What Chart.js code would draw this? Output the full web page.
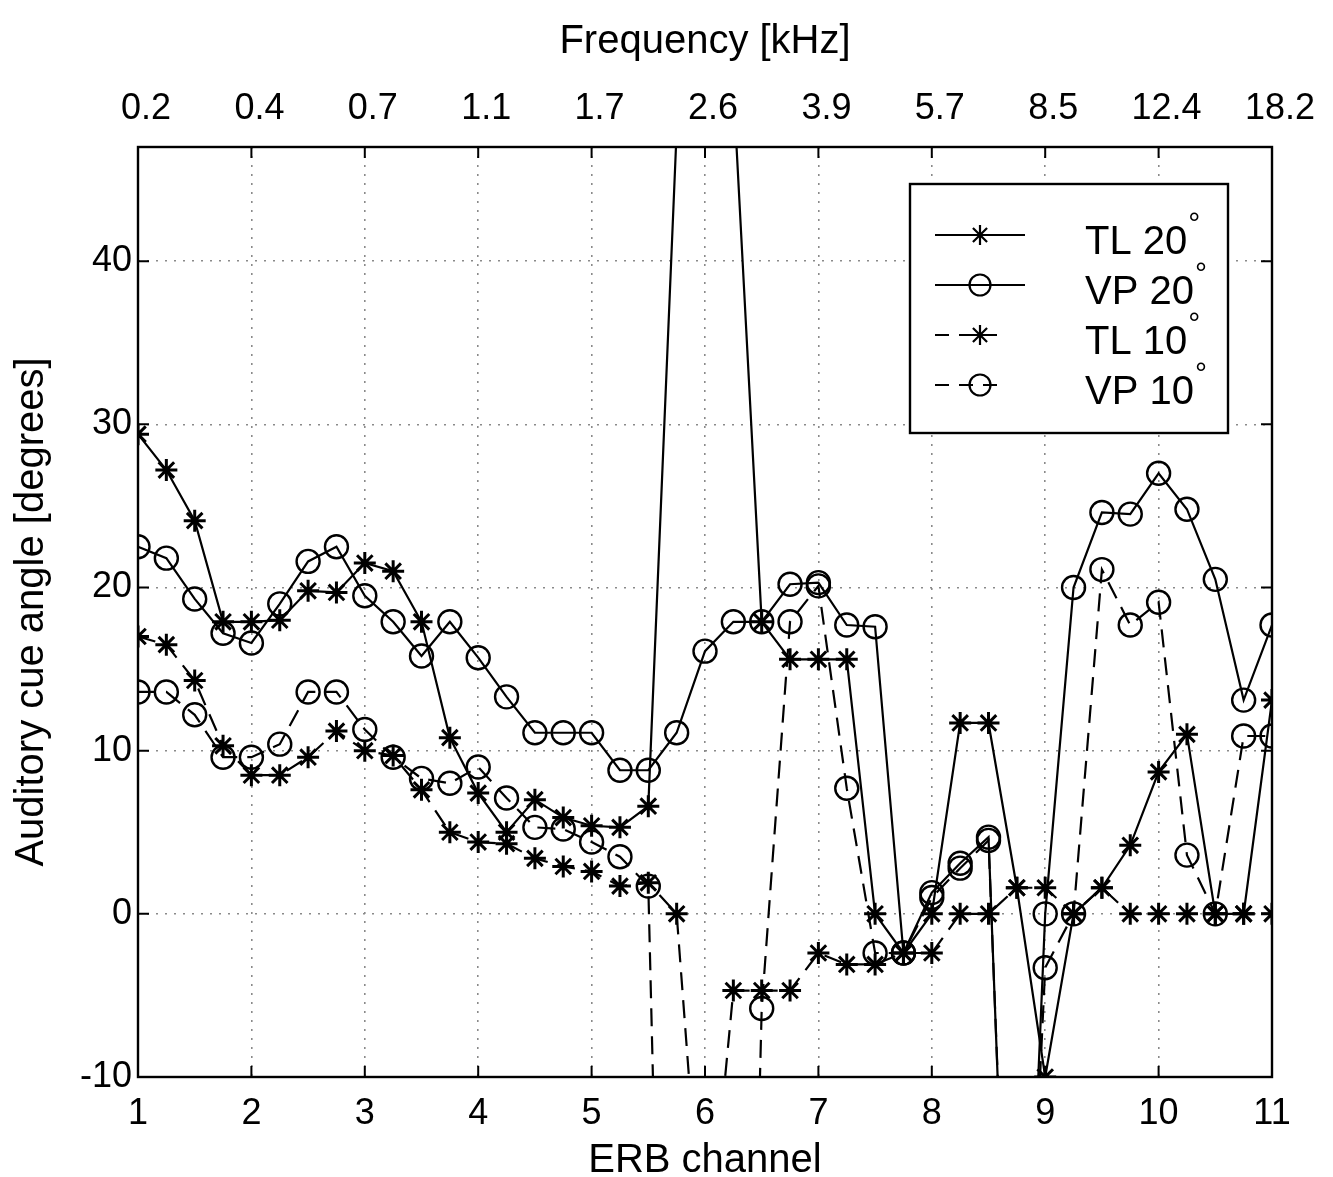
<!DOCTYPE html>
<html>
<head>
<meta charset="utf-8">
<script src="https://cdn.jsdelivr.net/npm/chart.js@4/dist/chart.umd.min.js"></script>
<style>
  html, body { margin: 0; padding: 0; background: #fff; }
  #wrap { width: 1333px; height: 1177px; }
</style>
</head>
<body>
<div id="wrap"><canvas id="cue" width="1333" height="1177"></canvas></div>
<script>
// ── Data ───────────────────────────────────────────────────────────────────
const erbChannel = [
  1, 1.25, 1.5, 1.75, 2, 2.25, 2.5, 2.75, 3, 3.25, 3.5, 3.75, 4, 4.25,
  4.5, 4.75, 5, 5.25, 5.5, 5.75, 6, 6.25, 6.5, 6.75, 7, 7.25, 7.5, 7.75,
  8, 8.25, 8.5, 8.75, 9, 9.25, 9.5, 9.75, 10, 10.25, 10.5, 10.75, 11,
];

// top axis: centre frequency of each integer ERB channel
const freqLabels = ['0.2', '0.4', '0.7', '1.1', '1.7', '2.6', '3.9', '5.7', '8.5', '12.4', '18.2'];
const erbTicks = [1, 2, 3, 4, 5, 6, 7, 8, 9, 10, 11];
const angleTicks = [-10, 0, 10, 20, 30, 40];

const tl20 = [
  29.4, 27.2, 24.1, 17.9, 17.9, 18.0, 19.8, 19.7, 21.5, 21.0,
  17.9, 10.8, 7.4, 5.0, 7.0, 5.9, 5.4, 5.3, 6.6, 48,
  65, 50.7, 17.9, 15.6, 15.6, 15.6, 0, -2.4, 0, 11.7,
  11.7, 1.6, -10, 0, 1.6, 4.2, 8.7, 11.0, 0, 0, 13.1,
];
const vp20 = [
  22.5, 21.8, 19.3, 17.2, 16.6, 19.0, 21.6, 22.5, 19.5, 17.9,
  15.8, 17.9, 15.7, 13.3, 11.1, 11.1, 11.1, 8.8, 8.8, 11.1,
  16.1, 17.9, 17.9, 20.2, 20.3, 17.7, 17.6, -2.4, 1.3, 3.1,
  4.7, -41, 0, 20.0, 24.6, 24.5, 27.0, 24.8, 20.5, 13.1, 17.7,
];
const tl10 = [
  17.0, 16.5, 14.3, 10.3, 8.5, 8.5, 9.6, 11.2, 10.0, 9.7,
  7.6, 5.0, 4.4, 4.3, 3.4, 2.9, 2.6, 1.7, 1.9, 0,
  -23, -4.7, -4.7, -4.7, -2.4, -3.1, -3.1, -2.4, -2.4, 0,
  0, 1.6, 1.6, 0, 1.6, 0, 0, 0, 0, 0, 0,
];
const vp10 = [
  13.6, 13.6, 12.2, 9.6, 9.6, 10.4, 13.6, 13.6, 11.3, 9.6,
  8.3, 8.0, 9.0, 7.1, 5.3, 5.2, 4.4, 3.5, 1.7, -70,
  -80, -75, -5.8, 17.9, 20.1, 7.7, -2.4, -2.4, 1.0, 2.8,
  4.5, -40, -3.3, 0, 21.1, 17.7, 19.1, 3.6, 0, 10.9, 10.9,
];

// ── Style ──────────────────────────────────────────────────────────────────
const FONT_FAMILY = "'Liberation Sans', Arial, Helvetica, sans-serif";
const TICK_FONT = { family: FONT_FAMILY, size: 36 };
const TITLE_FONT = { family: FONT_FAMILY, size: 40, lineHeight: 1.0 };
const INK = '#000';
const GRID_COLOR = '#8a8a8a';
const DASH = [18, 10];

function series(label, values, marker, dashed) {
  return {
    label,
    data: values.map((v, i) => ({ x: erbChannel[i], y: v })),
    borderColor: INK,
    borderWidth: 2.2,
    borderDash: dashed ? DASH : [],
    tension: 0,
    fill: false,
    clip: 1,
    pointStyle: marker,
    pointRadius: marker === 'star' ? 11 : 11.5,
    pointBorderWidth: marker === 'star' ? 3 : 2.4,
    pointBorderColor: INK,
    pointBackgroundColor: 'rgba(0,0,0,0)',
    pointHoverRadius: 0,
  };
}

// ── Frame, inward ticks and legend ─────────────────────────────────────────
const frameTicks = {
  id: 'frameTicks',
  afterDatasetsDraw(chart) {
    const { ctx, chartArea: a, scales } = chart;
    const len = 11;
    ctx.save();
    ctx.strokeStyle = INK;
    ctx.lineWidth = 2.4;
    ctx.setLineDash([]);
    ctx.strokeRect(a.left, a.top, a.right - a.left, a.bottom - a.top);
    ctx.lineWidth = 2;
    ctx.beginPath();
    erbTicks.forEach((t) => {
      const x = scales.x.getPixelForValue(t);
      ctx.moveTo(x, a.bottom); ctx.lineTo(x, a.bottom - len);
      ctx.moveTo(x, a.top); ctx.lineTo(x, a.top + len);
    });
    angleTicks.forEach((t) => {
      const y = scales.y.getPixelForValue(t);
      ctx.moveTo(a.left, y); ctx.lineTo(a.left + len, y);
      ctx.moveTo(a.right, y); ctx.lineTo(a.right - len, y);
    });
    ctx.stroke();
    ctx.restore();
  },
  afterDraw(chart) {
    const { ctx, chartArea: a } = chart;
    const box = { x: a.right - 362, y: a.top + 37, w: 318, h: 249 };
    ctx.save();
    ctx.fillStyle = '#fff';
    ctx.fillRect(box.x, box.y, box.w, box.h);
    ctx.strokeStyle = INK;
    ctx.lineWidth = 2.4;
    ctx.strokeRect(box.x, box.y, box.w, box.h);

    chart.data.datasets.forEach((ds, i) => {
      const rowY = box.y + 51 + i * 50;
      const dashed = ds.borderDash.length > 0;
      const x0 = box.x + 25;
      const x1 = box.x + (dashed ? 95 : 115);
      const mx = box.x + 70;
      ctx.strokeStyle = INK;
      ctx.lineWidth = ds.borderWidth;
      ctx.setLineDash(dashed ? [14, 10] : []);
      ctx.beginPath();
      ctx.moveTo(x0, rowY);
      ctx.lineTo(x1, rowY);
      ctx.stroke();
      ctx.setLineDash([]);
      ctx.fillStyle = 'rgba(0,0,0,0)';
      Chart.helpers.drawPoint(ctx, {
        pointStyle: ds.pointStyle,
        radius: ds.pointStyle === 'star' ? 10 : 10.5,
        rotation: 0,
        borderWidth: ds.pointBorderWidth,
      }, mx, rowY);

      // label text, degree sign raised like a superscript
      const text = ds.label.replace('°', '');
      const tx = box.x + 175;
      ctx.fillStyle = INK;
      ctx.font = `40px ${FONT_FAMILY}`;
      ctx.textBaseline = 'middle';
      ctx.textAlign = 'left';
      ctx.fillText(text, tx, rowY + 8);
      const w = ctx.measureText(text).width;
      ctx.font = `30px ${FONT_FAMILY}`;
      ctx.fillText('°', tx + w + 1, rowY - 10);
    });
    ctx.restore();
  },
};

// ── Chart ──────────────────────────────────────────────────────────────────
const ctx = document.getElementById('cue').getContext('2d');
new Chart(ctx, {
  type: 'line',
  data: {
    datasets: [
      series('TL 20°', tl20, 'star', false),
      series('VP 20°', vp20, 'circle', false),
      series('TL 10°', tl10, 'star', true),
      series('VP 10°', vp10, 'circle', true),
    ],
  },
  options: {
    responsive: false,
    animation: false,
    events: [],
    layout: { padding: { left: 0, right: 61, top: 0, bottom: 0 } },
    plugins: { legend: { display: false }, tooltip: { enabled: false } },
    scales: {
      x: {
        type: 'linear',
        position: 'bottom',
        min: 1,
        max: 11,
        afterBuildTicks: (s) => { s.ticks = erbTicks.map((v) => ({ value: v })); },
        afterFit: (s) => { s.height = 100; },
        ticks: { color: INK, font: TICK_FONT, padding: 15, maxRotation: 0, autoSkip: false },
        grid: { color: GRID_COLOR, lineWidth: 1.6, drawTicks: false },
        border: { display: false, dash: [2, 7] },
        title: {
          display: true, text: 'ERB channel', color: INK,
          font: { ...TITLE_FONT, lineHeight: 0.8 },
          padding: { top: 0, bottom: 0 },
        },
      },
      x2: {
        type: 'linear',
        position: 'top',
        min: 1,
        max: 11,
        afterBuildTicks: (s) => { s.ticks = erbTicks.map((v) => ({ value: v })); },
        afterFit: (s) => { s.height = 147; },
        ticks: {
          color: INK, font: TICK_FONT, padding: 16, labelOffset: 8,
          maxRotation: 0, autoSkip: false,
          callback: (v) => freqLabels[erbTicks.indexOf(v)],
        },
        grid: { display: false, drawTicks: false },
        border: { display: false },
        title: {
          display: true, text: 'Frequency [kHz]', color: INK, font: TITLE_FONT,
          padding: { top: 22, bottom: 0 },
        },
      },
      y: {
        type: 'linear',
        position: 'left',
        min: -10,
        max: 47,
        afterBuildTicks: (s) => { s.ticks = angleTicks.map((v) => ({ value: v })); },
        afterFit: (s) => { s.width = 138; },
        ticks: { color: INK, font: TICK_FONT, padding: 6 },
        grid: { color: GRID_COLOR, lineWidth: 1.6, drawTicks: false },
        border: { display: false, dash: [2, 7] },
        title: {
          display: true, text: 'Auditory cue angle [degrees]', color: INK, font: TITLE_FONT,
          padding: { top: 12, bottom: 0 },
        },
      },
    },
  },
  plugins: [frameTicks],
});
</script>
</body>
</html>
